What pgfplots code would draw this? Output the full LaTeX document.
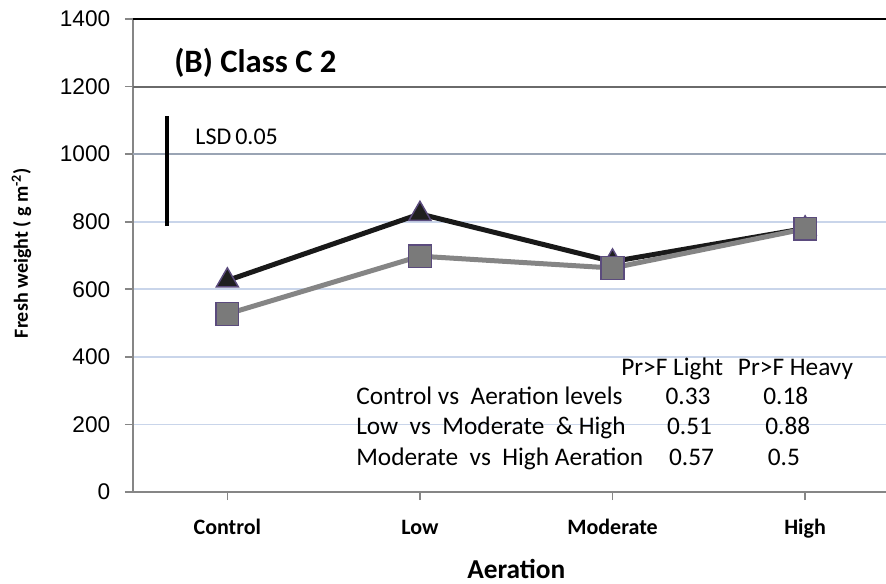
\documentclass[border=0pt]{standalone}
\usepackage{pgfplots}
\pgfplotsset{compat=1.18}
\usepackage{fontspec}
\setmainfont{Carlito}
\newfontfamily\arialfont{Liberation Sans}
\definecolor{gridblue}{HTML}{C9D5EA}
\definecolor{axisgray}{HTML}{868686}
\definecolor{grid1200}{HTML}{6A6A6A}
\definecolor{grid1000}{HTML}{9AA4B4}
\definecolor{mkedge}{HTML}{5B4B7D}
\definecolor{heavygray}{HTML}{858585}
\definecolor{sqfill}{HTML}{7A7A7A}
\begin{document}
\begin{tikzpicture}
\useasboundingbox (-99.75pt,-68.25pt) rectangle (564.75pt,369pt);
\begin{axis}[
  at={(0,0)}, anchor=south west,
  scale only axis, width=564.75pt, height=354.75pt,
  xmin=-0.49, xmax=3.42, ymin=0, ymax=1400,
  axis x line*=bottom, axis y line*=left,
  axis line style={draw=axisgray, line width=1.5pt, -},
  xtick={0,1,2,3}, xticklabels={Control,Low,Moderate,High},
  ytick={0,200,...,1400},
  tick align=outside, major tick length=6pt,
  tick style={draw=axisgray, line width=1.2pt},
  ymajorgrids, grid style={draw=gridblue, line width=1.2pt},
  /pgf/number format/assume math mode=true,
  /pgf/number format/1000 sep={},
  yticklabel style={font=\arialfont\fontsize{17}{20}\selectfont, xshift=-7.5pt},
  xticklabel style={font=\bfseries\fontsize{16.5}{20}\selectfont, anchor=base, yshift=-25.5pt},
  xlabel={Aeration},
  xlabel style={font=\bfseries\fontsize{20.5}{24}\selectfont, at={(axis description cs:0.509,-0.182)}, anchor=base},
  ylabel={Fresh weight ( g m\textsuperscript{-2})},
  ylabel style={font=\bfseries\fontsize{15}{18}\selectfont, at={(axis description cs:-0.148,0.505)}, anchor=center},
  clip=false,
]
\draw[black, line width=1.8pt] (axis cs:-0.49,1400) -- (axis cs:3.42,1400);
\draw[grid1200, line width=1.5pt] (axis cs:-0.49,1200) -- (axis cs:3.42,1200);
\draw[grid1000, line width=1.3pt] (axis cs:-0.49,1000) -- (axis cs:3.42,1000);
% LSD bar
\addplot[black, line width=3pt, forget plot] coordinates {(-0.312,787) (-0.312,1113)};
% Light
\addplot[black!90, line width=3.75pt, mark=triangle*, mark size=9.5pt,
  mark options={fill=black!88, draw=mkedge, line width=1.1pt}] coordinates {(0,626) (1,823) (2,682) (3,780)};
% Heavy
\addplot[heavygray, line width=3.75pt, mark=square*, mark size=8.5pt,
  mark options={fill=sqfill, draw=mkedge, line width=1.1pt}] coordinates {(0,527) (1,698) (2,663) (3,779)};
\node[anchor=west, font=\bfseries\fontsize{24.5}{28}\selectfont] at (axis cs:-0.30,1270) {(B) Class C 2};
\node[anchor=west, font=\fontsize{18}{21}\selectfont] at (axis cs:-0.19,1051) {LSD\,0.05};
\tikzset{tbl/.style={font=\fontsize{19}{22}\selectfont, text height=0.68em, text depth=0.2em}}
\node[tbl, anchor=center] at (axis cs:2.31,355) {Pr>F Light};
\node[tbl, anchor=center] at (axis cs:2.95,355) {Pr>F Heavy};
\node[tbl, anchor=west] at (axis cs:0.645,269) {Control vs\ \ Aeration levels};
\node[tbl, anchor=west] at (axis cs:0.645,180) {Low\ \ vs\ \ Moderate\ \ \& High};
\node[tbl, anchor=west] at (axis cs:0.645,89) {Moderate\ \ vs\ \ High Aeration};
\node[tbl] at (axis cs:2.392,269) {0.33};
\node[tbl] at (axis cs:2.40,180) {0.51};
\node[tbl] at (axis cs:2.41,89) {0.57};
\node[tbl] at (axis cs:2.90,269) {0.18};
\node[tbl] at (axis cs:2.91,180) {0.88};
\node[tbl] at (axis cs:2.89,89) {0.5};
\end{axis}
\end{tikzpicture}
\end{document}
